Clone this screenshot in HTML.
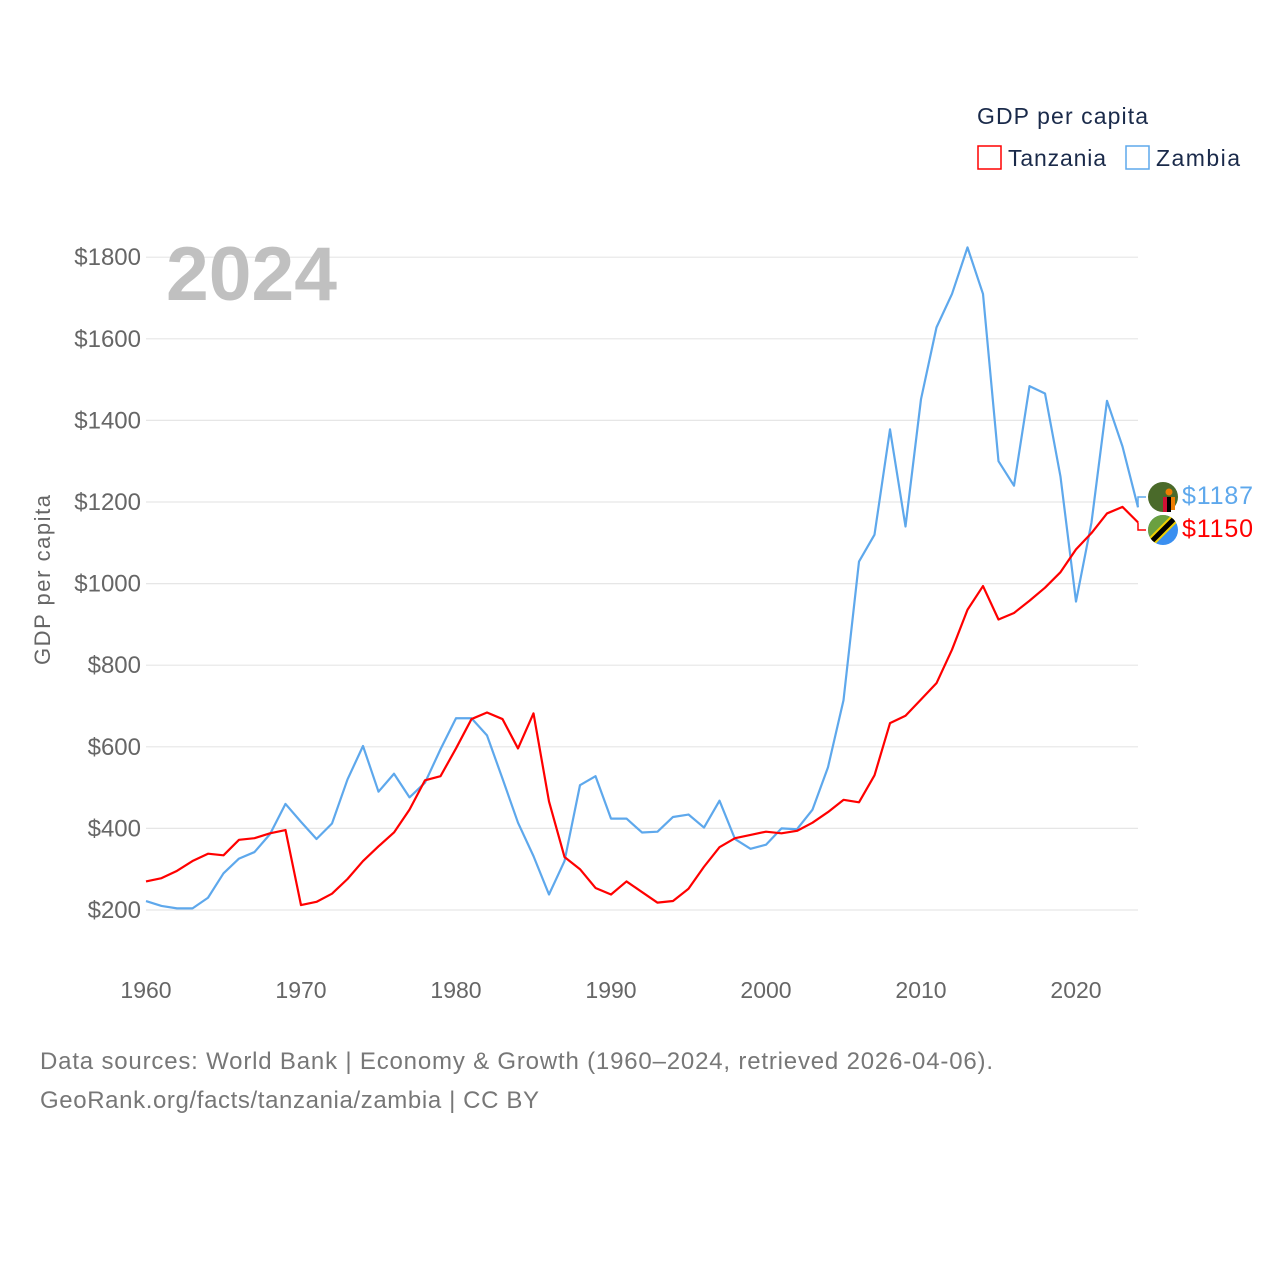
<!DOCTYPE html>
<html><head><meta charset="utf-8"><style>
body{margin:0;background:#fff;width:1280px;height:1280px;overflow:hidden;font-family:"Liberation Sans",sans-serif}
</style></head><body>
<svg id="chart" width="1280" height="1280" xmlns="http://www.w3.org/2000/svg" font-family="Liberation Sans, sans-serif">
<g id="grid"></g>
<g id="yticks" fill="#666" font-size="24" text-anchor="end"></g>
<g id="xticks" fill="#666" font-size="23" text-anchor="middle"></g>
<text x="166" y="300" font-size="76" font-weight="bold" fill="#c0c0c0" textLength="171" lengthAdjust="spacingAndGlyphs">2024</text>
<text transform="translate(50,580) rotate(-90)" text-anchor="middle" font-size="22" fill="#666" textLength="170">GDP per capita</text>
<g id="series"></g>
<g>
<text x="977" y="124" font-size="23" fill="#1a2a4a" textLength="171">GDP per capita</text>
<rect x="978" y="146" width="23" height="23" fill="none" stroke="#ff0000" stroke-width="1.5"/>
<text x="1008" y="166" font-size="23" fill="#1a2a4a" textLength="98">Tanzania</text>
<rect x="1126" y="146" width="23" height="23" fill="none" stroke="#5ea8ec" stroke-width="1.5"/>
<text x="1156" y="166" font-size="23" fill="#1a2a4a" textLength="84">Zambia</text>
</g>
<g>
<circle cx="1163" cy="497" r="15" fill="#4a6a2a"/>
<rect x="1163" y="497" width="4" height="15" fill="#d21034"/><rect x="1167" y="497" width="4" height="15" fill="#000"/><rect x="1171" y="497" width="4" height="13" fill="#ef7d00"/>
<circle cx="1169" cy="492" r="3.5" fill="#ef7d00"/>
<clipPath id="tzc"><circle cx="1163" cy="530" r="15"/></clipPath>
<g clip-path="url(#tzc)">
<rect x="1148" y="515" width="30" height="30" fill="#3a8ff0"/>
<polygon points="1148,515 1178,515 1148,545" fill="#6aa040"/>
<line x1="1148" y1="545" x2="1178" y2="515" stroke="#f0d000" stroke-width="9"/>
<line x1="1148" y1="545" x2="1178" y2="515" stroke="#000" stroke-width="5"/>
</g>
<text x="1182" y="504" font-size="25" fill="#5ea8ec" textLength="71">$1187</text>
<text x="1182" y="537" font-size="25" fill="#ff0000" textLength="71">$1150</text>
</g>
<text x="40" y="1069" font-size="24" fill="#777" textLength="953">Data sources: World Bank | Economy &amp; Growth (1960–2024, retrieved 2026-04-06).</text>
<text x="40" y="1108" font-size="24" fill="#777" textLength="499">GeoRank.org/facts/tanzania/zambia | CC BY</text>
</svg>
<script>
const years=[];for(let y=1960;y<=2024;y++)years.push(y);
const tanzania=[270,278,296,320,338,334,372,376,388,396,212,220,240,276,320,356,390,446,518,528,596,668,684,668,596,682,466,330,300,254,238,270,244,218,222,252,306,354,376,384,392,388,394,414,440,470,464,530,658,676,716,756,838,936,994,912,928,958,990,1028,1084,1124,1172,1188,1150];
const zambia=[222,210,204,204,230,290,326,342,386,460,416,374,412,520,602,490,534,476,512,594,670,670,628,522,414,332,238,320,506,528,424,424,390,392,428,434,402,468,374,350,360,400,398,446,550,714,1054,1120,1378,1140,1452,1628,1710,1824,1710,1300,1240,1484,1466,1262,956,1150,1448,1336,1187];
const yTicks=[200,400,600,800,1000,1200,1400,1600,1800];
const xTicks=[1960,1970,1980,1990,2000,2010,2020];
const NS="http://www.w3.org/2000/svg";
const X=y=>146+(y-1960)*15.5;
const Y=v=>910-(v-200)*0.408;
const grid=document.getElementById('grid'),yt=document.getElementById('yticks'),xt=document.getElementById('xticks'),ser=document.getElementById('series');
yTicks.forEach(v=>{
 const l=document.createElementNS(NS,'line');
 
 
 l.setAttribute('x1',146);l.setAttribute('x2',1138);l.setAttribute('y1',Y(v));l.setAttribute('y2',Y(v));
 l.setAttribute('stroke','#e6e6e6');l.setAttribute('stroke-width','1.2');grid.appendChild(l);
 const t=document.createElementNS(NS,'text');
 
 
 t.setAttribute('x',141);t.setAttribute('y',Y(v)+8);t.textContent='$'+v;yt.appendChild(t);
});
xTicks.forEach(v=>{
 const t=document.createElementNS(NS,'text');
 
 
 t.setAttribute('x',X(v));t.setAttribute('y',998);t.textContent=v;xt.appendChild(t);
});
function line(data,color,name){
 const p=document.createElementNS(NS,'polyline');
 
 
 p.setAttribute('points',data.map((v,i)=>X(years[i])+','+Y(v)).join(' '));
 p.setAttribute('fill','none');p.setAttribute('stroke',color);p.setAttribute('stroke-width','2.2');p.setAttribute('stroke-linejoin','round');
 ser.appendChild(p);
}
line(zambia,'#5ea8ec','zambia-line');
line(tanzania,'#ff0000','tanzania-line');
const c1=document.createElementNS(NS,'polyline');


c1.setAttribute('points','1138,'+Y(zambia[64])+' 1138,497 1146,497');c1.setAttribute('fill','none');c1.setAttribute('stroke','#5ea8ec');c1.setAttribute('stroke-width','1.5');ser.appendChild(c1);
const c2=document.createElementNS(NS,'polyline');


c2.setAttribute('points','1138,'+Y(tanzania[64])+' 1138,530 1146,530');c2.setAttribute('fill','none');c2.setAttribute('stroke','#ff0000');c2.setAttribute('stroke-width','1.5');ser.appendChild(c2);
</script>
</body></html>
